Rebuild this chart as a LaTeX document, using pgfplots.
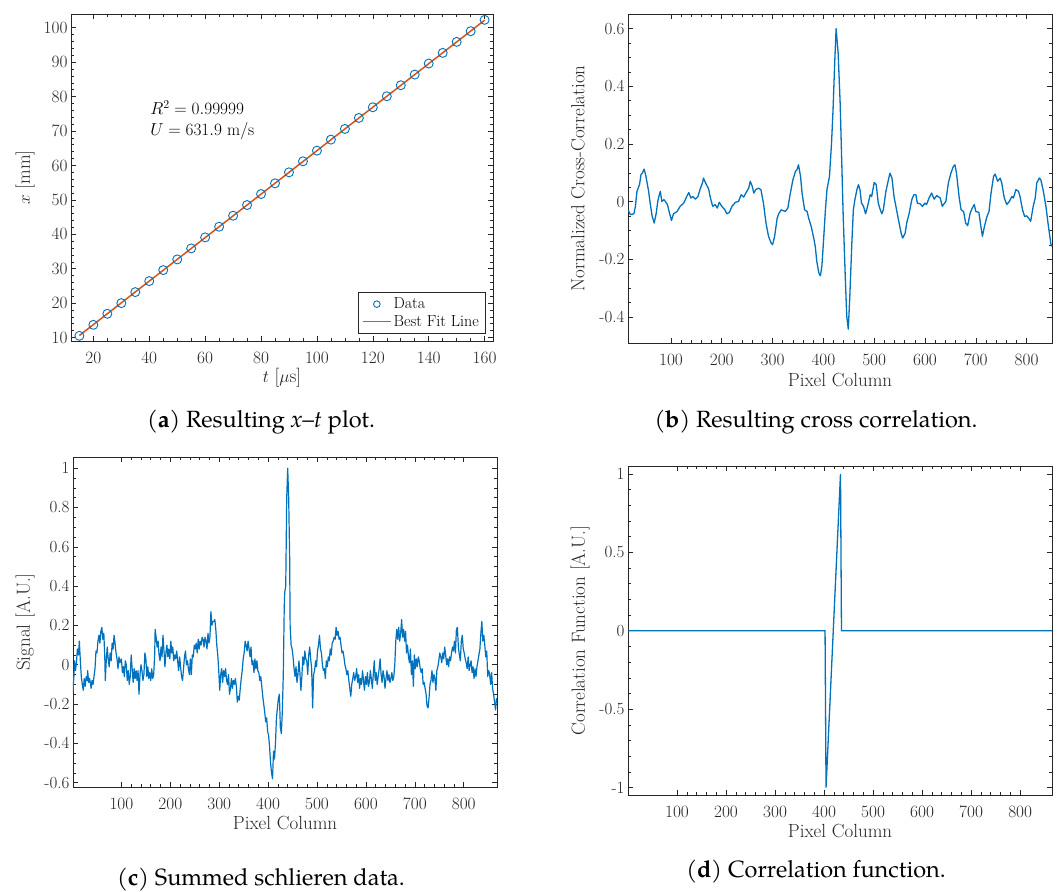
\documentclass[border=0pt]{standalone}
\usepackage{pgfplots}
\pgfplotsset{compat=1.18}
\usepackage{fontspec}
\newfontfamily\capfont{TeX Gyre Pagella}
\definecolor{mblue}{HTML}{0072BD}
\definecolor{fitorange}{HTML}{D95319}
\definecolor{axgray}{RGB}{38,38,38}
\newcommand\labfont{\fontsize{19}{22}\selectfont}
\newcommand\capsize{\fontsize{23.5}{27}\capfont}

\pgfplotsset{
  panel/.style={
    scale only axis, anchor=south west,
    axis line style={axgray, line width=0.7pt},
    every tick/.style={axgray, line width=0.6pt},
    tick align=inside,
    major tick length=5pt, minor tick length=3pt,
    tick label style={font=\fontsize{17}{20}\selectfont, text=axgray},
    xticklabel style={yshift=-8pt},
    every axis x label/.style={at={(axis description cs:0.5,-0.112)}, anchor=center, font=\labfont, text=axgray},
    every axis y label/.style={at={(axis description cs:-0.113,0.5)}, anchor=center, rotate=90, font=\labfont, text=axgray},
    scaled ticks=false,
  },
  curve/.style={draw=mblue, line width=1.3pt, no markers, line join=round},
  circlegend/.style={legend image code/.code={\draw[draw=mblue, line width=0.9pt, fill=none] (14pt,0pt) circle (3.3pt);}},
  fitlegend/.style={legend image code/.code={\draw[draw=fitorange, line width=1.5pt] (0pt,0pt) -- (28pt,0pt);}},
}

\begin{document}
\begin{tikzpicture}
\useasboundingbox (0,0) rectangle (1062pt,891pt);

% (a) x-t plot
\begin{axis}[panel, at={(71pt,550pt)}, width=422pt, height=327pt,
  xmin=12, xmax=163, ymin=9, ymax=104,
  xtick={20,40,...,160}, ytick={10,20,...,100},
  minor x tick num=3, minor y tick num=4,
  xlabel={$t$ [$\mu$s]}, ylabel={$x$ [mm]},
  every axis x label/.style={at={(axis description cs:0.5,-0.113)}, anchor=center, font=\labfont, text=axgray},
  every axis y label/.style={at={(axis description cs:-0.109,0.5)}, anchor=center, rotate=90, font=\labfont, text=axgray},
  legend style={name=leg, at={(1,0)}, anchor=south east, xshift=-8pt, yshift=8pt,
    draw=none, fill=white, font=\fontsize{16}{18}\selectfont, legend cell align=left,
    row sep=1pt, inner xsep=4pt, inner ysep=3pt},
]
\addplot[only marks, mark=o, mark size=4.5pt, color=mblue, line width=0.9pt, circlegend]
coordinates {
(15,10.5)(20,13.7)(25,16.9)(30,20.0)(35,23.2)(40,26.4)(45,29.6)(50,32.7)
(55,35.9)(60,39.1)(65,42.2)(70,45.4)(75,48.5)(80,51.7)(85,54.8)(90,58.0)
(95,61.2)(100,64.3)(105,67.5)(110,70.6)(115,73.8)(120,76.9)(125,80.1)
(130,83.3)(135,86.4)(140,89.6)(145,92.7)(150,95.9)(155,99.0)(160,102.3)
};
\addlegendentry{Data}
\addplot[draw=fitorange, line width=1.5pt, no markers, fitlegend]
coordinates {(15,10.6)(160,102.2)};
\addlegendentry{Best Fit Line}
\node[anchor=north west, align=left, inner sep=0pt, text=black,
  font=\fontsize{17}{21}\selectfont] at (axis cs:40.3,78.8)
  {$R^2 = 0.99999$\\$U = 631.9~\mathrm{m/s}$};
\end{axis}
\draw[axgray, line width=0.6pt] (leg.south west) rectangle (leg.north east);
\node[font=\capsize] at (261pt,469pt) {(\textbf{a}) Resulting {\itshape x}\textendash{\itshape t} plot.};

% (b) cross correlation
\begin{axis}[panel, at={(628pt,548pt)}, width=424pt, height=329pt,
  xmin=15.4, xmax=850, ymin=-0.49, ymax=0.651,
  xtick={100,200,...,800}, ytick={-0.4,-0.2,0,0.2,0.4,0.6},
  yticklabels={-0.4,-0.2,0,0.2,0.4,0.6},
  minor x tick num=4, minor y tick num=3,
  xlabel={Pixel Column}, ylabel={Normalized Cross-Correlation},
  every axis y label/.style={at={(axis description cs:-0.118,0.5)}, anchor=center, rotate=90, font=\labfont, text=axgray},
]
\addplot[curve] coordinates {
(16,-0.03)(20,-0.045)(27,-0.042)(30,-0.016)(33,0.036)(38,0.059)(41,0.094)(44,0.10)
(47,0.113)(50,0.094)(53,0.065)(56,0.036)(59,-0.005)(63,-0.051)(67,-0.074)(71,-0.039)
(74,0.001)(77,0.024)(79,0.036)(82,0.001)(86,0.007)(89,0.001)(93,-0.01)(97,-0.039)
(101,-0.065)(105,-0.042)(112,-0.034)(118,-0.016)(125,-0.005)(131,0.018)(135,0.032)
(139,0.013)(143,0.018)(148,0.009)(153,0.018)(158,0.047)(162,0.065)(164,0.082)
(168,0.065)(174,0.045)(177,0.018)(182,-0.016)(187,-0.01)(191,-0.022)(195,-0.002)
(200,-0.016)(206,-0.028)(210,-0.042)(215,-0.037)(220,-0.016)(227,-0.002)(233,0.001)
(238,0.024)(243,0.016)(248,0.032)(253,0.047)(256,0.071)(260,0.053)(263,0.030)
(267,0.042)(272,0.047)(277,0.042)(282,-0.005)(287,-0.074)(292,-0.12)(297,-0.143)
(300,-0.149)(304,-0.12)(309,-0.057)(312,-0.042)(317,-0.028)(325,-0.034)(330,-0.022)
(335,0.030)(340,0.076)(345,0.105)(348,0.111)(351,0.128)(355,0.088)(358,0.030)
(363,-0.028)(368,-0.034)(371,-0.057)(376,-0.086)(381,-0.126)(384,-0.155)(387,-0.207)
(391,-0.247)(394,-0.257)(397,-0.224)(400,-0.143)(404,-0.028)(407,0.042)(412,0.088)
(416,0.203)(419,0.319)(422,0.469)(425,0.6)(429,0.516)(433,0.342)(436,0.146)
(439,-0.051)(443,-0.259)(446,-0.398)(449,-0.442)(452,-0.328)(456,-0.143)(459,-0.028)
(462,0.007)(466,0.042)(469,0.059)(472,0.042)(475,-0.005)(479,-0.016)(483,-0.042)
(487,-0.016)(492,0.024)(495,0.018)(500,0.067)(504,0.059)(508,-0.005)(512,-0.028)
(515,-0.042)(518,-0.028)(523,0.036)(528,0.076)(531,0.099)(535,0.082)(539,0.018)
(544,-0.028)(549,-0.074)(553,-0.109)(556,-0.126)(561,-0.109)(564,-0.074)(569,-0.039)
(574,0.007)(578,0.024)(582,0.024)(585,-0.005)(590,-0.007)(595,-0.016)(600,-0.005)
(603,-0.01)(608,0.013)(613,0.030)(618,0.009)(623,0.021)(630,0.013)(634,-0.016)
(641,0.001)(646,0.065)(651,0.099)(656,0.123)(659,0.128)(662,0.099)(667,0.018)
(671,-0.028)(676,-0.034)(680,-0.074)(684,-0.083)(689,-0.039)(693,-0.022)(697,-0.01)
(700,-0.034)(706,-0.037)(710,-0.086)(713,-0.12)(717,-0.086)(722,-0.051)(726,-0.034)
(730,0.030)(735,0.088)(738,0.096)(743,0.071)(748,0.082)(751,0.065)(756,0.013)
(761,-0.01)(766,0.001)(771,0.018)(774,0.013)(779,0.042)(784,0.036)(787,0.018)
(792,-0.028)(796,-0.051)(800,-0.049)(804,-0.057)(808,-0.068)(813,-0.016)(817,0.013)
(820,0.065)(825,0.082)(828,0.076)(833,0.036)(838,-0.016)(843,-0.086)(848,-0.149)
(850,-0.155)
};
\end{axis}
\node[font=\capsize] at (816pt,469pt) {(\textbf{b}) Resulting cross correlation.};

% (c) summed schlieren data
\begin{axis}[panel, at={(73pt,104pt)}, width=424pt, height=330pt,
  xmin=1, xmax=868, ymin=-0.622, ymax=1.057,
  xtick={100,200,...,800}, ytick={-0.6,-0.4,...,1.0},
  yticklabels={-0.6,-0.4,-0.2,0,0.2,0.4,0.6,0.8,1},
  minor x tick num=4, minor y tick num=3,
  xlabel={Pixel Column}, ylabel={Signal [A.U.]},
  every axis x label/.style={at={(axis description cs:0.5,-0.109)}, anchor=center, font=\labfont, text=axgray},
]
\addplot[curve, line width=1.2pt] coordinates {
(1,-0.14)(3,-0.05)(4,0.02)(6,-0.03)(8,0.01)(10,0.08)(12,0.05)(14,0.12)(16,0.02)
(18,-0.06)(20,-0.10)(22,-0.13)(24,-0.07)(26,-0.11)(28,-0.06)(30,-0.08)(31,-0.03)
(33,-0.09)(35,-0.07)(37,-0.10)(38,-0.12)(40,-0.08)(42,-0.10)(44,-0.06)(46,-0.02)
(48,0.07)(50,0.06)(52,0.12)(54,0.15)(56,0.11)(58,0.17)(60,0.19)(62,0.13)(64,0.16)
(66,0.04)(67,-0.08)(69,0.02)(71,0.09)(73,0.03)(75,-0.01)(77,0.06)(79,0.02)(81,0.11)
(83,0.08)(85,0.15)(87,0.11)(89,0.06)(91,0.03)(93,-0.02)(95,0.04)(97,0.01)(100,0.03)
(102,-0.04)(104,-0.01)(106,-0.06)(108,0.02)(110,0.00)(112,-0.08)(114,-0.03)(116,-0.10)
(118,-0.06)(120,0.05)(122,-0.02)(124,-0.09)(126,-0.02)(128,-0.07)(130,-0.03)(132,-0.08)
(134,-0.03)(136,-0.15)(138,-0.05)(140,0.00)(142,-0.03)(144,-0.08)(146,-0.05)(148,0.06)
(150,0.03)(152,-0.06)(154,-0.01)(156,-0.07)(158,-0.04)(160,-0.08)(162,-0.02)(164,-0.07)
(166,-0.05)(168,0.05)(169,0.18)(171,0.14)(173,0.09)(175,0.12)(177,0.05)(179,0.02)
(181,0.09)(183,0.04)(185,0.15)(187,0.07)(189,-0.01)(191,0.06)(193,0.10)(195,0.04)
(197,0.08)(199,0.03)(201,0.12)(203,0.06)(205,0.09)(207,0.02)(209,0.05)(211,0.03)
(213,0.07)(215,0.02)(217,-0.03)(219,0.04)(221,-0.01)(223,-0.06)(225,-0.08)(227,-0.02)
(229,0.04)(231,0.07)(233,0.00)(235,0.02)(237,-0.02)(239,-0.05)(241,0.03)(243,-0.05)
(245,0.05)(247,0.04)(249,0.10)(251,0.08)(253,0.11)(255,0.06)(257,0.13)(259,0.08)
(261,0.12)(263,0.10)(265,0.14)(267,0.13)(269,0.09)(271,0.14)(273,0.12)(275,0.08)
(277,0.16)(279,0.11)(281,0.14)(283,0.27)(285,0.20)(287,0.22)(289,0.22)(291,0.23)
(293,0.18)(295,0.10)(297,0.05)(299,-0.03)(301,-0.13)(303,-0.05)(305,-0.02)(307,-0.09)
(309,-0.03)(311,-0.06)(313,-0.02)(315,-0.08)(317,-0.10)(319,-0.05)(321,-0.15)(323,-0.12)
(325,-0.07)(327,-0.12)(329,-0.08)(331,-0.10)(333,-0.07)(335,-0.11)(337,-0.19)(339,-0.16)
(341,-0.18)(343,-0.12)(345,-0.07)(347,-0.03)(349,0.03)(351,0.06)(353,0.12)(355,0.10)
(357,0.07)(359,0.12)(361,0.08)(363,0.04)(365,0.09)(367,0.00)(369,0.02)(371,-0.04)
(373,0.03)(375,-0.02)(377,0.02)(379,-0.03)(381,-0.04)(383,-0.08)(385,-0.06)(387,-0.11)
(389,-0.16)(391,-0.20)(393,-0.24)(395,-0.29)(397,-0.27)(399,-0.34)(401,-0.36)(403,-0.42)
(405,-0.50)(407,-0.55)(409,-0.58)(411,-0.44)(413,-0.48)(415,-0.40)(417,-0.27)(419,-0.22)
(421,-0.17)(423,-0.15)(425,-0.32)(427,-0.35)(429,-0.24)(431,-0.05)(433,0.30)(434,0.37)
(436,0.40)(438,0.85)(440,1.00)(442,0.85)(444,0.55)(445,0.20)(447,0.10)(449,0.08)
(451,0.04)(453,-0.02)(455,-0.06)(457,-0.01)(459,-0.09)(461,-0.05)(463,0.02)(465,-0.04)
(467,-0.13)(469,-0.06)(471,0.04)(473,0.00)(475,0.07)(477,0.03)(479,0.02)(481,-0.05)
(483,0.05)(485,0.09)(487,0.03)(489,-0.02)(491,-0.22)(493,-0.05)(495,-0.03)(497,0.02)
(499,-0.01)(501,0.07)(503,0.10)(505,0.15)(507,0.08)(509,0.06)(511,0.00)(513,-0.03)
(515,-0.02)(517,-0.07)(519,0.02)(521,-0.01)(523,0.04)(525,0.02)(527,0.08)(529,0.05)
(531,0.11)(533,0.12)(535,0.14)(537,0.13)(539,0.19)(541,0.15)(543,0.17)(545,0.13)
(547,0.14)(549,0.10)(551,0.06)(553,0.07)(555,0.04)(557,0.00)(559,-0.02)(561,-0.05)
(563,-0.03)(565,-0.08)(567,-0.12)(569,-0.16)(571,-0.10)(573,-0.07)(575,-0.04)(577,-0.08)
(579,-0.06)(581,-0.02)(583,-0.09)(585,-0.05)(587,-0.12)(589,-0.07)(591,-0.10)(593,-0.03)
(595,-0.08)(597,-0.13)(599,-0.06)(601,-0.10)(603,-0.04)(605,-0.11)(607,-0.09)(609,-0.03)
(611,-0.07)(613,-0.12)(615,-0.05)(617,0.02)(619,-0.08)(621,-0.04)(623,-0.10)(625,-0.06)
(627,-0.02)(629,0.03)(631,-0.05)(633,-0.09)(635,-0.03)(637,-0.06)(639,-0.12)(641,-0.07)
(643,-0.03)(645,-0.08)(647,-0.05)(649,-0.09)(651,-0.07)(653,-0.04)(655,-0.08)(657,-0.06)
(659,0.00)(661,0.12)(663,0.18)(665,0.13)(667,0.19)(669,0.12)(671,0.16)(673,0.23)
(675,0.14)(677,0.18)(679,0.12)(681,0.17)(683,0.06)(685,0.10)(687,0.04)(689,0.01)
(691,0.08)(693,-0.05)(695,0.02)(697,-0.11)(699,0.05)(701,-0.02)(703,0.03)(705,-0.01)
(707,0.04)(709,0.02)(711,-0.02)(713,-0.04)(715,-0.02)(717,-0.10)(719,-0.09)(721,-0.12)
(723,-0.15)(725,-0.21)(727,-0.22)(729,-0.17)(731,-0.10)(733,-0.08)(735,-0.03)(737,-0.09)
(739,-0.05)(741,-0.07)(743,-0.13)(745,-0.03)(747,-0.01)(749,0.02)(751,0.06)(753,0.04)
(755,0.01)(757,0.06)(759,0.03)(761,0.09)(763,0.05)(765,0.00)(767,0.03)(769,-0.01)
(771,0.04)(773,0.02)(775,0.06)(777,0.09)(779,0.07)(781,0.12)(783,0.06)(785,0.18)
(787,0.19)(789,0.09)(791,0.05)(793,0.02)(795,0.12)(797,0.15)(799,0.08)(801,0.06)
(803,0.03)(805,0.01)(807,-0.02)(809,0.04)(811,-0.03)(813,0.00)(815,0.02)(817,-0.04)
(819,-0.01)(821,-0.07)(823,-0.02)(825,-0.06)(827,-0.01)(829,0.02)(831,0.05)(833,0.08)
(835,0.16)(837,0.22)(839,0.12)(841,0.15)(843,0.10)(845,0.04)(847,0.07)(849,-0.06)
(851,-0.03)(853,-0.05)(855,-0.10)(857,-0.04)(859,-0.12)(861,-0.15)(863,-0.19)(865,-0.23)
(867,-0.17)
};
\end{axis}
\node[font=\capsize] at (261pt,11pt) {(\textbf{c}) Summed schlieren data.};

% (d) correlation function
\begin{axis}[panel, at={(628pt,96pt)}, width=424pt, height=329pt,
  xmin=0, xmax=865, ymin=-1.047, ymax=1.05,
  xtick={100,200,...,800}, ytick={-1,-0.5,0,0.5,1},
  yticklabels={-1,-0.5,0,0.5,1},
  minor x tick num=4, minor y tick num=4,
  xlabel={Pixel Column}, ylabel={Correlation Function [A.U.]},
  every axis x label/.style={at={(axis description cs:0.5,-0.109)}, anchor=center, font=\labfont, text=axgray},
]
\addplot[curve, line join=miter] coordinates {
(1,0)(402,0)(404,-1)(433.5,1)(435.5,0)(865,0)
};
\end{axis}
\node[font=\capsize] at (816pt,19pt) {(\textbf{d}) Correlation function.};
\end{tikzpicture}
\end{document}
